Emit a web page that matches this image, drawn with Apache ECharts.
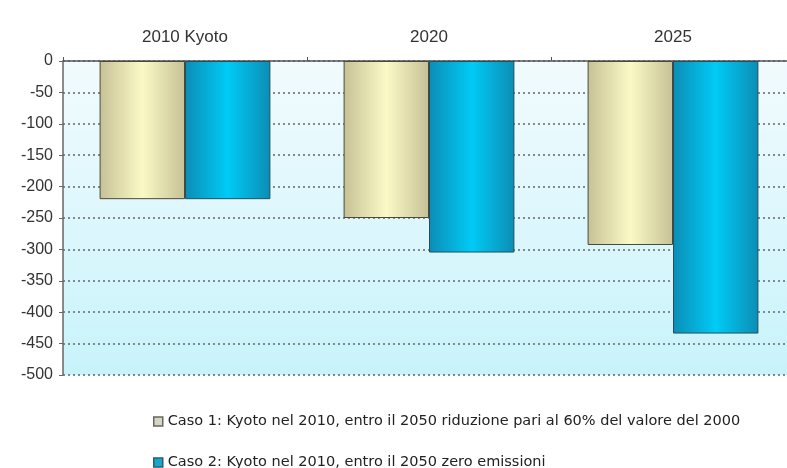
<!DOCTYPE html>
<html>
<head>
<meta charset="utf-8">
<script src="https://cdn.jsdelivr.net/npm/echarts@6/dist/echarts.min.js"></script>
<style>html,body{margin:0;padding:0;background:#fff;overflow:hidden}#c{width:795px;height:468px}</style>
</head>
<body>
<div id="c"></div>
<script>
var categories = ['2010 Kyoto', '2020', '2025'];
var caso1 = [-220, -250, -293];
var caso2 = [-220, -305, -434];
var seriesNames = ['Caso 1: Kyoto nel 2010, entro il 2050 riduzione pari al 60% del valore del 2000',
                   'Caso 2: Kyoto nel 2010, entro il 2050 zero emissioni'];

function hgrad(edge, mid) {
  return new echarts.graphic.LinearGradient(0, 0, 1, 0, [
    {offset: 0, color: edge}, {offset: 0.5, color: mid}, {offset: 1, color: edge}
  ]);
}
var legendText = {fontFamily: 'DejaVu Sans', fontSize: 14.5, color: '#222'};
var chart = echarts.init(document.getElementById('c'));
chart.setOption({
  animation: false,
  grid: {
    left: 63, top: 61, bottom: 93, right: 0, show: true, borderWidth: 0,
    backgroundColor: new echarts.graphic.LinearGradient(0, 0, 0, 1, [
      {offset: 0, color: '#f2fbfe'}, {offset: 1, color: '#c8f3fb'}
    ])
  },
  legend: [
    {
      left: 148, top: 409, itemWidth: 9, itemHeight: 9, icon: 'rect', itemGap: 10,
      textStyle: legendText,
      data: [{name: seriesNames[0], itemStyle: {color: '#d8d6c0', borderColor: '#666', borderWidth: 1.5}}]
    },
    {
      left: 148, top: 450, itemWidth: 9, itemHeight: 9, icon: 'rect', itemGap: 10,
      textStyle: legendText,
      data: [{name: seriesNames[1], itemStyle: {color: '#1aa6cc', borderColor: '#2b5f6e', borderWidth: 1.5}}]
    }
  ],
  xAxis: {
    type: 'category', position: 'top', data: categories,
    axisLine: {lineStyle: {color: '#555', width: 1.5}},
    axisTick: {show: true, length: 4, lineStyle: {color: '#555'}},
    axisLabel: {fontFamily: 'Liberation Sans', fontSize: 17, color: '#333', margin: 15},
    splitLine: {show: false}
  },
  yAxis: {
    type: 'value', min: -500, max: 0, interval: 50,
    axisLine: {show: true, lineStyle: {color: '#666', width: 1.5}},
    axisTick: {show: true, length: 4, lineStyle: {color: '#666'}},
    axisLabel: {fontFamily: 'Liberation Sans', fontSize: 16, color: '#333', margin: 10},
    splitLine: {show: true, lineStyle: {type: [2, 3], color: '#666', width: 1.5}}
  },
  series: [
    {
      name: seriesNames[0], type: 'bar', data: caso1, barGap: '0%', barCategoryGap: '30%',
      itemStyle: {color: hgrad('#c6c196', '#fbfac6'), borderColor: '#4a4a3a', borderWidth: 1}
    },
    {
      name: seriesNames[1], type: 'bar', data: caso2,
      itemStyle: {color: hgrad('#0b8db5', '#00cbf6'), borderColor: '#23505c', borderWidth: 1}
    }
  ]
});
</script>
</body>
</html>
